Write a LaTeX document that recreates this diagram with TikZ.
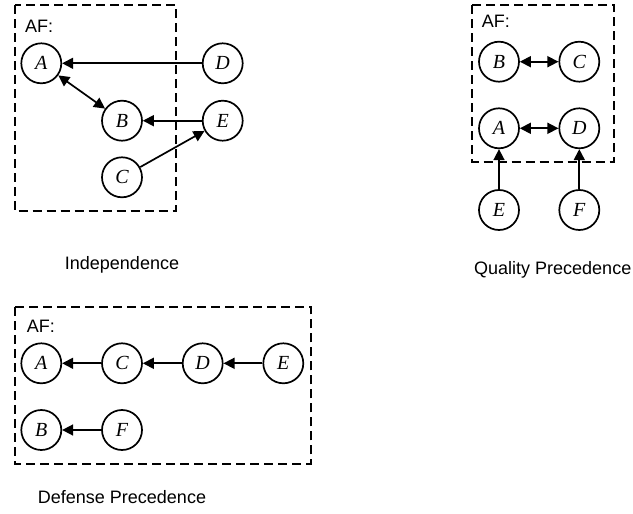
\documentclass[tikz,border=0pt]{standalone}
\usepackage{fontspec}
\setmainfont{Liberation Serif}
\setsansfont{Liberation Sans}
\usetikzlibrary{arrows.meta}
\begin{document}
\begin{tikzpicture}[x=1pt,y=-1pt,
  arg/.style={circle,draw,line width=1.7pt,minimum size=40pt,inner sep=0pt,
    font=\fontsize{20}{20}\selectfont\itshape},
  frame/.style={draw,line width=1.8pt,dash pattern=on 9pt off 5pt},
  lbl/.style={font=\sffamily\fontsize{18}{18}\selectfont,inner sep=0pt},
  att/.style={line width=1.7pt,-{Triangle[length=11pt,width=11pt]}},
  mutual/.style={line width=1.7pt,{Triangle[length=11pt,width=11pt]}-{Triangle[length=11pt,width=11pt]}}]
\useasboundingbox (0,0) rectangle (633,514);

% Independence
\draw[frame] (14.7,5) rectangle (175.7,211);
\node[lbl,anchor=west] (af1) at (25,26) {AF:};
\node[arg] (a1) at (41.3,63.3) {A};
\node[arg] (d1) at (222.7,63.3) {D};
\node[arg] (b1) at (122,120.7) {B};
\node[arg] (e1) at (222.7,120.7) {E};
\node[arg] (c1) at (122,177.3) {C};
\draw[att] (d1) -- (a1);
\draw[mutual] (a1) -- (b1);
\draw[att] (e1) -- (b1);
\draw[att] (c1) -- (e1);
\node[lbl] (t1) at (122,265) {Independence};

% Quality Precedence
\draw[frame] (472.3,5) rectangle (614,161.7);
\node[lbl,anchor=west] (af2) at (481.7,21.7) {AF:};
\node[arg] (b2) at (499,61.7) {B};
\node[arg] (c2) at (579.3,61.7) {C};
\node[arg] (a2) at (499,128.3) {A};
\node[arg] (d2) at (579.3,128.3) {D};
\node[arg] (e2) at (499,210) {E};
\node[arg] (f2) at (579.3,210) {F};
\draw[mutual] (b2) -- (c2);
\draw[mutual] (a2) -- (d2);
\draw[att] (e2) -- (a2);
\draw[att] (f2) -- (d2);
\node[lbl,anchor=east] (t2) at (631.5,270) {Quality Precedence};

% Defense Precedence
\draw[frame] (15,307.3) rectangle (310.7,464);
\node[lbl,anchor=west] (af3) at (26.7,326) {AF:};
\node[arg] (a3) at (41.3,363.3) {A};
\node[arg] (c3) at (122,363.3) {C};
\node[arg] (d3) at (202.7,363.3) {D};
\node[arg] (e3) at (283.3,363.3) {E};
\node[arg] (b3) at (41.3,430) {B};
\node[arg] (f3) at (122,430) {F};
\draw[att] (e3) -- (d3);
\draw[att] (d3) -- (c3);
\draw[att] (c3) -- (a3);
\draw[att] (f3) -- (b3);
\node[lbl] (t3) at (122,496.7) {Defense Precedence};
\end{tikzpicture}
\end{document}
